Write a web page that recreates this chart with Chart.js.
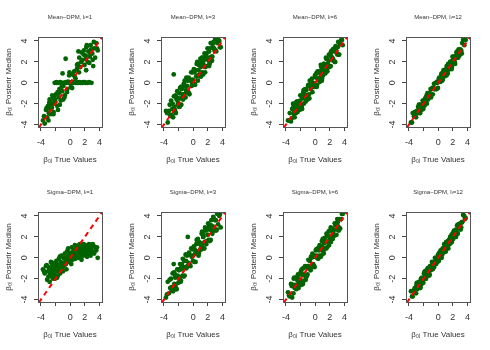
<!DOCTYPE html>
<html>
<head>
<meta charset="utf-8">
<script src="https://cdn.jsdelivr.net/npm/chart.js@4"></script>
<style>
  body { margin: 0; background: #fff; }
  #wrap { position: relative; width: 490px; height: 350px; }
  .panel { position: absolute; width: 122px; height: 175px; }
</style>
</head>
<body>
<div id="wrap"></div>
<script>
// true beta_0i values (shared by every panel)
const trueValues = [
  -3.72,-3.48,-3.31,-3.15,-3.02,-2.93,-2.81,-2.74,-2.66,-2.58,
  -2.49,-2.41,-2.36,-2.27,-2.18,-2.12,-2.03,-1.95,-1.88,-1.79,
  -1.71,-1.62,-1.55,-1.47,-1.38,-1.29,-1.21,-1.12,-1.04,-0.93,
  -0.85,-0.74,-0.62,-0.51,-0.38,-0.27,-0.14,-0.03,0.09,0.21,
  0.33,0.42,0.55,0.64,0.73,0.82,0.91,0.99,1.08,1.16,
  1.24,1.31,1.39,1.47,1.55,1.63,1.71,1.79,1.88,1.96,
  2.05,2.13,2.22,2.31,2.40,2.49,2.58,2.68,2.79,2.91,
  3.02,3.15,3.28,3.41,3.57,3.76,-1.67,-0.95,1.12,2.18,
  -3.58,-3.21,-2.97,-2.86,-2.63,-2.45,-2.29,-2.07,-1.84,-1.58,
  -1.42,-1.17,-0.98,-0.79,-0.57,-0.44,-0.21,-0.09,0.15,0.27,
  0.48,0.61,0.77,0.94,1.03,1.21,1.36,1.52,1.67,1.83,
  1.99,2.16,2.27,2.44,2.62,2.74,2.86,3.08,3.23,3.66
];

// posterior medians, one array per panel
const meanL1 = [
  -3.6,-3.9,-2.6,-3.3,-2.2,-2.9,-1.6,-2.5,-3.0,-1.9,
  -2.4,-1.5,-2.0,-2.8,-1.3,0.0,-1.8,-1.1,0.05,-2.2,
  -0.9,0.0,-1.4,-0.6,0.05,-1.7,0.0,-0.8,0.9,-0.3,
  0.0,-1.2,2.3,0.0,-0.6,0.1,0.7,0.0,-0.4,0.05,
  0.8,0.0,1.1,0.0,0.4,0.05,1.3,0.0,1.8,0.0,
  2.4,0.05,1.5,0.0,2.9,0.0,2.2,0.05,3.1,1.7,
  0.0,2.6,3.4,0.0,2.0,3.0,0.05,2.5,3.6,0.0,
  2.8,1.6,3.3,2.4,3.8,3.1,-2.6,-1.6,3.0,1.2,
  -3.2,-2.4,-3.6,-1.9,-2.2,-1.2,-3.0,-1.6,0.0,-1.0,
  -2.1,-0.4,0.0,-1.4,0.05,-0.9,0.0,1.0,0.0,-0.5,
  0.05,0.6,0.0,1.7,0.05,1.0,0.0,2.0,0.0,2.7,
  0.05,2.3,3.6,0.0,1.9,2.8,3.2,2.2,3.9,3.3
];
const meanL3 = [
  -2.7,-3.8,-2.7,-3.1,-1.7,-3.1,-2.0,-3.3,0.8,-2.3,
  -2.6,-1.2,-2.9,-1.6,-0.8,-2.1,-1.5,-2.3,-1.0,-0.5,
  -1.5,-2.1,-0.6,-1.1,-1.6,-0.1,-1.1,-0.3,-1.4,0.5,
  -0.3,-0.8,0.5,-1.1,0.3,1.0,-0.1,0.3,1.3,-0.1,
  1.2,0.6,2.0,0.2,1.2,1.8,0.8,2.3,0.6,1.9,
  1.0,2.4,1.8,1.6,2.8,1.0,2.5,2.4,1.6,3.3,
  2.4,3.0,1.8,3.3,3.8,2.5,2.1,3.4,3.9,3.1,
  4.2,3.0,3.8,4.3,4.0,3.4,-0.4,-0.9,2.1,1.6,
  -2.9,-2.1,-3.2,-2.5,-1.3,-2.8,-1.4,-1.9,-2.3,-0.4,
  -1.4,0.2,-0.7,0.2,-1.0,0.2,-0.3,1.0,1.0,-0.2,
  1.8,0.7,1.7,0.6,1.5,2.4,0.8,2.2,1.5,2.8,
  2.2,3.0,1.9,3.8,2.5,3.8,3.3,3.1,4.2,3.4
];
const meanL6 = [
  -3.6,-2.9,-3.7,-2.5,-2.0,-3.0,-3.3,-2.3,-1.9,-2.6,
  -1.8,-2.8,-2.2,-2.6,-1.8,-2.6,-1.2,-2.1,-1.3,-2.5,
  -1.4,-0.9,-2.0,-1.4,-0.6,-1.8,-0.7,-1.2,-1.6,-0.2,
  -1.1,0.2,-0.6,0.1,-0.9,0.0,-0.4,0.7,0.5,-0.4,
  1.1,0.3,1.1,0.1,0.9,1.5,0.2,1.3,0.7,1.8,
  1.1,1.7,0.9,2.4,1.3,2.3,1.8,1.6,2.7,1.5,
  2.7,1.6,2.5,2.2,3.2,2.1,3.0,2.0,3.5,2.9,
  2.7,3.9,2.7,3.7,4.1,3.6,-1.5,-1.5,1.6,3.0,
  -3.6,-3.4,-2.3,-2.7,-2.9,-1.8,-2.4,-1.7,-2.3,-0.7,
  -1.1,-1.5,-0.3,-1.5,-0.3,0.4,-0.4,-0.1,0.9,-0.2,
  1.0,0.5,1.7,0.4,1.2,1.8,1.1,2.3,1.1,2.1,
  1.6,2.9,2.4,2.3,3.3,2.0,3.3,3.4,2.7,4.1
];
const meanL12 = [
  -3.8,-2.9,-3.2,-2.8,-3.3,-2.7,-2.9,-2.3,-2.4,-2.9,
  -2.1,-2.5,-2.2,-2.6,-2.2,-1.7,-2.5,-1.9,-2.2,-1.5,
  -1.8,-1.4,-2.0,-1.0,-1.6,-1.0,-1.2,-1.3,-0.6,-1.2,
  -0.6,-1.1,-0.5,-0.6,0.0,-0.6,0.1,-0.5,0.4,0.2,
  0.1,0.8,0.2,0.7,1.2,0.6,0.9,0.7,1.3,1.6,
  1.1,0.9,1.7,1.5,1.3,2.0,1.6,2.0,1.5,2.5,
  2.2,1.9,2.5,1.8,2.5,2.9,2.4,2.7,3.2,2.6,
  3.2,3.1,3.8,4.1,3.6,4.1,-1.9,-0.6,0.7,2.3,
  -3.8,-2.8,-2.9,-2.9,-2.1,-2.9,-2.1,-2.0,-2.1,-1.2,
  -1.4,-1.0,-1.4,-0.5,-0.1,-0.6,-0.6,0.0,0.5,0.2,
  0.9,0.3,0.8,0.7,1.2,0.8,1.8,1.4,2.0,1.3,
  2.1,2.5,2.0,2.4,3.0,2.4,3.1,3.0,2.8,4.1
];
const sigmaL1 = [
  -1.1,-1.5,-0.8,-2.1,-1.3,-0.9,-2.3,-1.6,-1.0,-1.8,
  -0.6,-1.4,-2.0,-1.1,-0.5,-1.6,-0.9,-1.3,-0.3,-1.9,
  -0.7,-1.2,-0.1,-0.9,-1.5,-0.4,0.2,-1.0,-0.6,0.0,
  -0.8,0.4,-0.3,-1.1,0.1,0.9,-0.4,0.5,0.0,1.0,
  -0.2,0.6,0.3,1.2,-0.1,0.7,0.2,1.1,0.5,0.0,
  0.9,1.3,0.4,0.8,-0.2,1.1,0.6,0.2,1.0,0.5,
  1.2,0.3,0.8,0.1,1.0,0.5,1.3,0.7,0.2,1.1,
  0.6,1.2,0.4,1.0,0.7,0.0,-1.7,-0.5,0.6,0.9,
  -1.3,-0.7,-1.8,-1.2,-0.4,-1.5,-0.9,-2.0,-0.6,-1.3,
  0.1,-0.7,-1.3,0.0,-0.6,0.6,-0.1,0.3,-0.6,0.4,
  0.9,0.1,0.5,0.9,0.3,1.2,0.6,0.2,0.9,1.3,
  0.4,0.7,1.1,0.6,0.9,0.3,0.8,1.3,0.5,1.0
];
const sigmaL3 = [
  -3.8,-2.3,-3.4,-2.9,-2.0,-3.1,-1.5,-3.2,-0.6,-2.5,
  -1.6,-2.7,-1.8,-3.0,-1.1,-1.7,-2.4,-1.2,-1.9,-0.6,
  -2.3,-0.9,-0.6,-1.7,-0.9,-1.8,-0.3,-0.9,0.3,-1.0,
  0.2,2.0,-0.5,0.3,-0.8,0.9,0.2,-0.3,1.1,0.8,
  -0.4,1.3,0.6,1.8,0.2,1.5,0.7,1.4,0.8,2.3,
  1.3,2.3,2.0,0.9,1.5,2.9,2.6,1.3,2.7,2.2,
  3.3,1.7,2.7,3.0,1.7,3.6,2.6,3.0,3.8,2.6,
  3.6,2.6,4.2,3.2,4.0,2.9,-2.2,0.3,1.2,3.0,
  -3.5,-2.1,-2.8,-3.0,-1.4,-1.9,-3.0,-1.1,-2.0,-1.1,
  -0.1,-1.7,-0.3,-0.8,0.5,-0.7,0.1,0.8,-0.4,0.4,
  1.7,1.4,0.4,1.3,0.9,2.5,2.0,0.9,2.8,1.6,
  2.2,3.2,1.6,3.1,2.3,3.9,2.9,3.6,2.7,4.2
];
const sigmaL6 = [
  -3.3,-3.7,-2.5,-3.8,-2.6,-2.0,-2.9,-2.6,-1.9,-3.0,
  -2.1,-2.6,-1.6,-2.9,-2.1,-1.6,-2.4,-1.3,-2.6,-1.6,
  -2.2,-1.0,-1.6,-1.7,-0.8,-2.1,-0.9,-0.9,-1.6,-0.2,
  -1.0,-0.3,-1.2,0.0,0.4,-0.6,-0.8,0.2,0.7,0.0,
  0.9,-0.1,0.7,0.2,1.0,0.2,1.6,0.8,1.6,0.4,
  1.4,1.9,0.9,1.5,2.3,1.0,2.1,1.6,1.2,2.6,
  1.8,2.9,2.1,2.8,1.8,2.7,2.2,3.3,3.1,2.2,
  3.7,3.0,3.7,2.8,3.7,4.2,-2.5,-0.8,0.6,2.7,
  -3.6,-2.7,-3.4,-1.9,-2.8,-1.9,-2.3,-2.4,-1.1,-2.2,
  -0.9,-1.8,-0.8,-1.0,0.1,-0.9,0.1,-0.9,0.8,0.2,
  0.1,1.2,0.1,1.1,1.8,0.9,1.5,0.9,2.1,2.5,
  1.8,1.5,2.8,2.4,2.1,3.3,2.7,3.4,2.6,4.2
];
const sigmaL12 = [
  -3.2,-3.7,-3.1,-2.9,-3.4,-2.4,-2.8,-2.6,-2.3,-2.8,
  -2.4,-2.8,-2.0,-2.5,-1.9,-2.1,-2.4,-1.5,-2.0,-1.6,
  -2.0,-1.2,-1.6,-1.7,-1.0,-1.2,-1.7,-0.8,-1.2,-0.8,
  -0.4,-1.1,-0.4,-0.6,0.0,-0.6,-0.1,0.3,-0.3,0.1,
  0.7,0.6,0.3,0.6,0.5,1.3,1.0,0.6,1.5,1.0,
  1.2,1.6,0.9,1.7,1.3,2.0,1.6,1.9,1.5,2.3,
  1.8,2.5,2.0,2.3,2.7,2.3,3.1,2.3,3.0,2.8,
  3.3,2.9,3.4,4.1,4.0,3.8,-2.0,-0.8,1.0,2.6,
  -3.7,-2.9,-2.6,-3.0,-2.4,-2.9,-2.0,-2.1,-1.3,-1.8,
  -1.0,-1.6,-1.1,-0.6,-0.9,0.0,-0.2,-0.4,0.5,0.4,
  0.0,0.9,0.7,1.3,0.6,1.4,1.2,1.5,1.4,2.2,
  1.9,2.5,2.4,2.0,2.4,3.2,3.2,2.7,3.4,3.7
];

const panelTitles = [
  'Mean\u2212DPM, l\u1D62=1', 'Mean\u2212DPM, l\u1D62=3', 'Mean\u2212DPM, l\u1D62=6', 'Mean\u2212DPM, l\u1D62=12',
  'Sigma\u2212DPM, l\u1D62=1', 'Sigma\u2212DPM, l\u1D62=3', 'Sigma\u2212DPM, l\u1D62=6', 'Sigma\u2212DPM, l\u1D62=12'
];
const panelSeries = [meanL1, meanL3, meanL6, meanL12, sigmaL1, sigmaL3, sigmaL6, sigmaL12];
const tickValues = [-4, -2, 0, 2, 4];
const identityLine = [-5, 5];

const FONT = "'Liberation Sans', Arial, Helvetica, sans-serif";

// R style box, rotated y tick labels and panel title
const boxPlugin = {
  id: 'rbox',
  afterDraw(chart, args, opts) {
    const { ctx, chartArea: a } = chart;
    const ys = chart.scales.y;
    ctx.save();
    ctx.strokeStyle = '#555';
    ctx.lineWidth = 1;
    ctx.strokeRect(Math.round(a.left) + 0.5, Math.round(a.top) + 0.5,
      Math.round(a.right - a.left), Math.round(a.bottom - a.top));

    ctx.fillStyle = '#333';
    ctx.font = '9px ' + FONT;
    ctx.textAlign = 'center';
    ctx.textBaseline = 'middle';
    ys.ticks.forEach(t => {
      ctx.save();
      ctx.translate(a.left - 13, ys.getPixelForValue(t.value));
      ctx.rotate(-Math.PI / 2);
      ctx.fillText(String(t.value), 0, 0);
      ctx.restore();
    });

    ctx.font = '6px ' + FONT;
    ctx.fillText(opts.text, (a.left + a.right) / 2, 17);
    ctx.restore();
  }
};

const wrap = document.getElementById('wrap');

panelSeries.forEach((ys, i) => {
  const col = i % 4, row = Math.floor(i / 4);
  const div = document.createElement('div');
  div.className = 'panel';
  div.style.left = (col * 122.5) + 'px';
  div.style.top = (row * 175) + 'px';
  const cv = document.createElement('canvas');
  cv.width = 122; cv.height = 175;
  div.appendChild(cv);
  wrap.appendChild(div);

  new Chart(cv.getContext('2d'), {
    data: {
      datasets: [
        {
          type: 'line',
          data: identityLine.map(v => ({ x: v, y: v })),
          borderColor: '#ff0000',
          borderWidth: 2,
          borderDash: [5, 4],
          pointRadius: 0,
          fill: false
        },
        {
          type: 'scatter',
          data: trueValues.map((x, k) => ({ x: x, y: ys[k] })),
          backgroundColor: '#006400',
          borderWidth: 0,
          pointRadius: 2.4
        }
      ]
    },
    options: {
      responsive: false,
      animation: false,
      devicePixelRatio: 1,
      layout: { padding: { top: 37, right: 20, left: 0, bottom: 0 } },
      plugins: {
        legend: { display: false },
        tooltip: { enabled: false },
        rbox: { text: panelTitles[i] }
      },
      scales: {
        x: {
          type: 'linear',
          min: -4.4, max: 4.35,
          afterBuildTicks: s => { s.ticks = tickValues.map(v => ({ value: v })); },
          afterFit: s => { s.height = 48; },
          border: { display: false },
          grid: { drawOnChartArea: false, drawTicks: true, tickLength: 4, color: '#444' },
          ticks: {
            autoSkip: false, maxRotation: 0, padding: 6,
            color: '#333', font: { family: FONT, size: 9 },
            callback: v => (v === -2 ? '' : String(v))
          },
          title: {
            display: true, text: '\u03B2\u2080\u1D62 True Values',
            color: '#333', font: { family: FONT, size: 8 },
            padding: { top: 0, bottom: 10 }
          }
        },
        y: {
          type: 'linear',
          min: -4.23, max: 4.38,
          afterBuildTicks: s => { s.ticks = tickValues.map(v => ({ value: v })); },
          afterFit: s => { s.width = 38; },
          border: { display: false },
          grid: { drawOnChartArea: false, drawTicks: true, tickLength: 4, color: '#444' },
          ticks: {
            autoSkip: false, padding: 4,
            color: 'rgba(0,0,0,0)', font: { family: FONT, size: 9 }
          },
          title: {
            display: true, text: '\u03B2\u2080\u1D62 Posterir Median',
            color: '#333', font: { family: FONT, size: 8 },
            padding: { top: 4, bottom: 0 }
          }
        }
      }
    },
    plugins: [boxPlugin]
  });
});
</script>
</body>
</html>
